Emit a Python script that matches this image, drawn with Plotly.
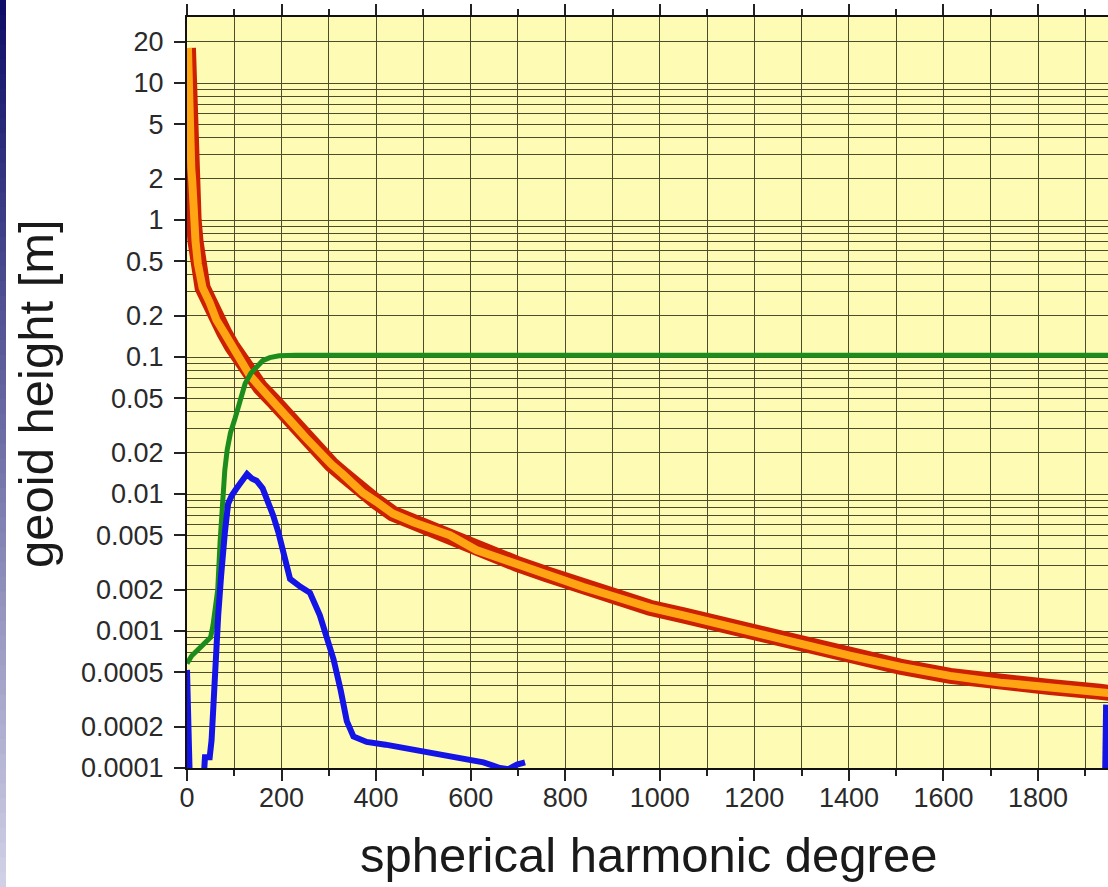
import plotly.graph_objects as go

# ---------------- data ----------------
signal_deg = [2, 3, 4, 5, 7, 9, 11, 14, 18, 23, 33, 48, 62, 79, 95, 109, 132, 155, 181,
              223, 250, 280, 305, 329, 350, 372, 400, 435, 480, 520, 556, 612, 650, 697,
              760, 837, 900, 979, 1050, 1120, 1190, 1260, 1330, 1402, 1508, 1614, 1720,
              1825, 1931, 1960]
signal_val = [18, 9.5, 6.5, 4.9, 3.0, 2.4, 1.96, 1.0, 0.7, 0.48, 0.32, 0.25, 0.187, 0.15,
              0.12, 0.1, 0.074, 0.06, 0.0485, 0.033, 0.026, 0.02, 0.0165, 0.014, 0.012,
              0.0102, 0.0088, 0.0072, 0.0062, 0.0055, 0.005, 0.0039, 0.0035, 0.0031,
              0.0026, 0.0021, 0.0018, 0.00148, 0.0013, 0.00113, 0.00098, 0.00085, 0.00076,
              0.00066, 0.00055, 0.00047, 0.00042, 0.00039, 0.00036, 0.00035]

green_deg = [0, 10, 25, 40, 50, 55, 60, 65, 70, 75, 80, 85, 92, 102, 112, 123, 135, 147,
             160, 175, 195, 230, 1960]
green_val = [0.00058, 0.00066, 0.00074, 0.00082, 0.0009, 0.0011, 0.0014, 0.002, 0.0045,
             0.009, 0.015, 0.021, 0.028, 0.036, 0.048, 0.064, 0.076, 0.085, 0.094, 0.099,
             0.102, 0.103, 0.103]

blue_deg = [0, 3, 6, 20, 35, 38, 48, 52, 55, 60, 66, 72, 76, 80, 87, 95, 105, 118, 127,
            137, 147, 160, 171, 182, 193, 205, 218, 240, 260, 281, 295, 310, 325, 338,
            352, 380, 420, 451, 500, 556, 600, 627, 662, 680, 698, 715,
            None, 1941, 1944]
blue_val = [0.00052, 0.0002, 0.00008, 0.00008, 0.00008, 0.00012, 0.00012, 0.00016,
            0.00026, 0.0006, 0.0013, 0.0025, 0.0039, 0.0052, 0.0085, 0.0098, 0.011,
            0.0125, 0.014, 0.013, 0.0125, 0.011, 0.009, 0.007, 0.0053, 0.0035, 0.0024,
            0.0021, 0.0019, 0.0013, 0.0009, 0.00062, 0.00037, 0.00022, 0.00017, 0.000155,
            0.000148, 0.000142, 0.00013, 0.000122, 0.000115, 0.00011, 0.0001, 0.000098,
            0.000106, 0.00011, None, 0.00005, 0.00029]

y_tickvals = [20, 10, 5, 2, 1, 0.5, 0.2, 0.1, 0.05, 0.02, 0.01, 0.005, 0.002, 0.001,
              0.0005, 0.0002, 0.0001]
y_ticktext = ["20", "10", "5", "2", "1", "0.5", "0.2", "0.1", "0.05", "0.02", "0.01",
              "0.005", "0.002", "0.001", "0.0005", "0.0002", "0.0001"]
x_tickvals = [0, 200, 400, 600, 800, 1000, 1200, 1400, 1600, 1800]

x_title = "spherical harmonic degree"
y_title = "geoid height [m]"

# ---------------- figure ----------------
W, H = 1108, 887
L, R, T, B = 187, 0, 17, 119
PW, PH = W - L - R, H - T - B

def px_x(p):
    return (p - L) / PW

def px_y(p):
    return (H - B - p) / PH

FONT = "Liberation Sans, Arial, Helvetica, sans-serif"
GRID = "#4d4d2a"

fig = go.Figure()
fig.add_trace(go.Scatter(x=signal_deg, y=signal_val, mode="lines",
                         line=dict(color="#cc2000", width=16), hoverinfo="skip"))
fig.add_trace(go.Scatter(x=signal_deg, y=signal_val, mode="lines",
                         line=dict(color="#ffa412", width=8), hoverinfo="skip"))
fig.add_trace(go.Scatter(x=green_deg, y=green_val, mode="lines",
                         line=dict(color="#1c8c1c", width=5), hoverinfo="skip"))
fig.add_trace(go.Scatter(x=blue_deg, y=blue_val, mode="lines", connectgaps=False,
                         line=dict(color="#1414e6", width=6), hoverinfo="skip"))

# decorative slide gradient strip on the far left
shapes = []
N = 60
c0 = (14, 14, 104)
c1 = (208, 208, 230)
for i in range(N):
    t = i / (N - 1)
    col = tuple(int(round(c0[k] + (c1[k] - c0[k]) * t)) for k in range(3))
    y_top = H * i / N
    y_bot = H * (i + 1) / N + 1
    shapes.append(dict(type="rect", xref="paper", yref="paper",
                       x0=px_x(0), x1=px_x(6), y0=px_y(y_bot), y1=px_y(y_top),
                       line=dict(width=0), fillcolor="rgb(%d,%d,%d)" % col, layer="above"))

fig.update_layout(
    width=W, height=H,
    margin=dict(l=L, r=R, t=T, b=B, pad=0),
    paper_bgcolor="white",
    plot_bgcolor="#fdfbb4",
    showlegend=False,
    shapes=shapes,
    font=dict(family=FONT, color="#2a2a2a"),
    annotations=[
        dict(text=x_title, xref="paper", yref="paper", x=px_x(648), y=px_y(855),
             xanchor="center", yanchor="middle", showarrow=False,
             font=dict(size=49, color="#1a1a1a", family=FONT)),
        dict(text=y_title, xref="paper", yref="paper", x=px_x(36), y=px_y(394),
             xanchor="center", yanchor="middle", showarrow=False, textangle=-90,
             font=dict(size=49, color="#1a1a1a", family=FONT)),
    ],
)

fig.update_xaxes(
    range=[0, 1948], tickvals=x_tickvals, ticks="outside", ticklen=11, tickwidth=1.5,
    tickcolor="#222", showline=True, linecolor="#111", linewidth=2, mirror="ticks",
    showgrid=True, gridcolor=GRID, gridwidth=1.2, zeroline=False,
    tickfont=dict(size=27, color="#2a2a2a", family=FONT), ticklabelstandoff=-6,
    minor=dict(dtick=100, tick0=0, ticks="outside", ticklen=6, tickcolor="#222",
               showgrid=True, gridcolor=GRID, gridwidth=1.2),
)
fig.update_yaxes(
    type="log", range=[-4, 1.4818], tickvals=y_tickvals, ticktext=y_ticktext,
    ticks="outside", ticklen=11, tickwidth=1.5, tickcolor="#222",
    showline=True, linecolor="#111", linewidth=2, mirror=False,
    showgrid=True, gridcolor=GRID, gridwidth=1.1, zeroline=False,
    tickfont=dict(size=27, color="#2a2a2a", family=FONT), ticklabelstandoff=5,
    minor=dict(dtick="D1", ticks="", showgrid=True, gridcolor=GRID, gridwidth=1.1),
)

fig.write_html("out.html", config={"displayModeBar": False},
               post_script="document.body.style.margin='0';document.body.style.overflow='hidden';")
